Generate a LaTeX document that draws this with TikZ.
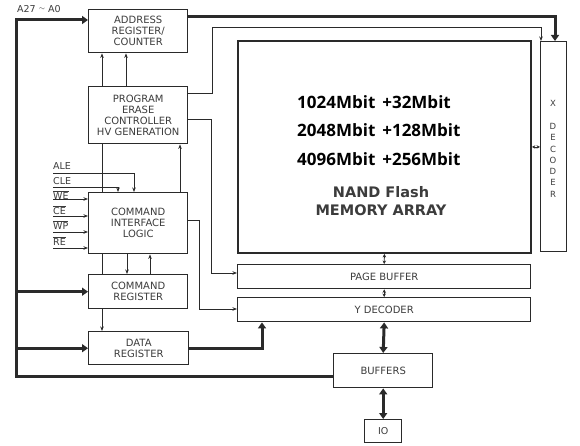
\documentclass[tikz,border=0pt]{standalone}
\usepackage{fontspec}
\setmainfont{DejaVu Sans}
\newfontfamily\numfont{Open Sans}
\usetikzlibrary{arrows.meta}
\pgfdeclarelayer{bg}
\pgfsetlayers{bg,main}
\definecolor{ink}{HTML}{2A2A2A}
\definecolor{txt}{HTML}{3C3C3C}
\tikzset{
  blk/.style={draw=ink, line width=1.4pt, fill=white, text=txt, align=center,
    font=\fontsize{10}{11}\selectfont, inner sep=0pt, anchor=north west},
  thin/.style={draw=ink, line width=0.8pt},
  tarrow/.style={thin, -{Stealth[length=4.5pt,width=3.5pt]}},
  tdarrow/.style={thin, {Stealth[length=3.5pt,width=3.5pt]}-{Stealth[length=3.5pt,width=3.5pt]}},
  bus/.style={draw=ink, line width=3pt},
  busarrow/.style={bus, -{Triangle[length=6pt,width=8pt]}},
  busdarrow/.style={bus, {Triangle[length=6pt,width=8pt]}-{Triangle[length=6pt,width=8pt]}},
  sig/.style={text=txt, font=\fontsize{9.5}{11}\selectfont, inner sep=0pt, anchor=west},
  numtxt/.style={anchor=west, inner sep=0pt, text=black, font=\numfont\bfseries\fontsize{17}{18}\selectfont},
}
\begin{document}
\begin{tikzpicture}[x=1pt,y=-1pt]
\useasboundingbox (0,0) rectangle (580,446);

% blocks
\node[blk, minimum width=99pt, minimum height=43pt] (addr) at (88,9) {ADDRESS\\REGISTER/\\COUNTER};
\node[blk, minimum width=99pt, minimum height=57pt] (pec) at (88,86) {PROGRAM\\ERASE\\CONTROLLER\\HV GENERATION};
\node[blk, minimum width=99pt, minimum height=61pt] (cil) at (88,192) {COMMAND\\INTERFACE\\LOGIC};
\node[blk, minimum width=99pt, minimum height=34pt] (creg) at (88,274) {COMMAND\\REGISTER};
\node[blk, minimum width=100pt, minimum height=33pt] (dreg) at (88,331) {DATA\\REGISTER};
\node[blk, line width=1.9pt, minimum width=293pt, minimum height=212pt] (mem) at (237,40) {};
\node[blk, line width=1pt, minimum width=26pt, minimum height=210pt] (xdec) at (540,41) {};
\node[blk, minimum width=293pt, minimum height=24pt] (pbuf) at (237,264) {PAGE BUFFER};
\node[blk, minimum width=293pt, minimum height=24pt] (ydec) at (237,297) {Y DECODER};
\node[blk, minimum width=99pt, minimum height=34pt] (buf) at (333,353) {BUFFERS};
\node[blk, minimum width=37pt, minimum height=23pt, font=\fontsize{9.5}{11}\selectfont\rmfamily] (io) at (364,419) {IO};

% memory array text
\node[numtxt] (m1) at (297,102) {1024Mbit\hspace{0.15em} +32Mbit};
\node[numtxt] (m2) at (297,130) {2048Mbit\hspace{0.15em} +128Mbit};
\node[numtxt] (m3) at (297,159) {4096Mbit\hspace{0.15em} +256Mbit};
\node[inner sep=0pt, text=txt, align=center, font=\bfseries\fontsize{14.5}{18}\selectfont] (m4) at (381,201) {NAND Flash\\MEMORY ARRAY};

% X decoder text
\node[inner sep=0pt, text=txt, align=center, font=\fontsize{8.5}{11.3}\selectfont] (xt) at (553,149) {X\\[11.3pt]D\\E\\C\\O\\D\\E\\R};

% signal labels
\node[sig] (lale) at (53,166) {ALE};
\node[sig] (lcle) at (53,181) {CLE};
\node[sig] (lwe) at (53,195) {$\overline{\mbox{WE}}$};
\node[sig] (lce) at (53,210) {$\overline{\mbox{CE}}$};
\node[sig] (lwp) at (53,225) {$\overline{\mbox{WP}}$};
\node[sig] (lre) at (53,241) {$\overline{\mbox{RE}}$};
\node[sig] (la) at (17,9) {A27 \raisebox{0.3ex}{\fontsize{7}{8}\selectfont$\sim$} A0};

% coordinates
\coordinate (bl) at (16,376);
\coordinate (tl) at (16,20);
\coordinate (tr) at (555,17);
\coordinate (p1) at (212,93);
\coordinate (p2) at (212,27);
\coordinate (p3) at (541,27);
\coordinate (q1) at (211,119);
\coordinate (q2) at (211,273);
\coordinate (r1) at (199,220);
\coordinate (r2) at (199,309);
\coordinate (d1) at (262,348);
\coordinate (sale) at (53,173);
\coordinate (cale) at (134,173);
\coordinate (scle) at (53,187);
\coordinate (ccle) at (118,187);
\coordinate (swe) at (53,199);
\coordinate (sce) at (53,216);
\coordinate (swp) at (53,232);
\coordinate (sre) at (53,248);
\coordinate (cm) at (102,0);

% background and pass-through line behind boxes
\begin{pgfonlayer}{bg}
\fill[white] (0,0) rectangle (580,446);
\draw[thin, {Stealth[length=4.5pt,width=3.5pt]}-{Stealth[length=4.5pt,width=3.5pt]}] (addr.south -| cm) -- (dreg.north -| cm);
\end{pgfonlayer}

% bus lines
\draw[busarrow] (buf.west |- bl) -- (bl) -- (tl) -- (addr.west |- tl);
\draw[busarrow] (bl |- creg.west) -- (creg.west);
\draw[busarrow] (bl |- dreg.west) -- (dreg.west);
\draw[busarrow] (addr.east |- tr) -- (tr) -- (xdec.north -| tr);
\draw[busarrow] (dreg.east |- d1) -- (d1) -- (ydec.south -| d1);
\draw[busdarrow] (ydec.south) -- (buf.north);
\draw[busdarrow] (buf.south) -- (io.north);

% thin connectors
\draw[tarrow] (pec.east |- p1) -- (p1) -- (p2) -- (p3) -- (xdec.north -| p3);
\draw[tarrow] (pec.east |- q1) -- (q1) -- (q2) -- (pbuf.west |- q2);
\draw[tarrow] (cil.east |- r1) -- (r1) -- (r2) -- (ydec.west |- r2);
\draw[tarrow] (pec.north -| 126,0) -- (addr.south -| 126,0);
\draw[tarrow] (cil.north -| 180,0) -- (pec.south -| 180,0);
\draw[tarrow] (cil.south -| 127,0) -- (creg.north -| 127,0);
\draw[tarrow] (creg.north -| 150,0) -- (cil.south -| 150,0);
\draw[tdarrow] (mem.east) -- (xdec.west |- mem.east);
\draw[tdarrow] (mem.south) -- (pbuf.north);
\draw[tdarrow] (pbuf.south) -- (ydec.north);

% control inputs
\draw[tarrow] (sale) -- (cale) -- (cil.north -| cale);
\draw[tarrow] (scle) -- (ccle) -- (cil.north -| ccle);
\draw[tarrow] (swe) -- (cil.west |- swe);
\draw[tarrow] (sce) -- (cil.west |- sce);
\draw[tarrow] (swp) -- (cil.west |- swp);
\draw[tarrow] (sre) -- (cil.west |- sre);
\end{tikzpicture}
\end{document}
